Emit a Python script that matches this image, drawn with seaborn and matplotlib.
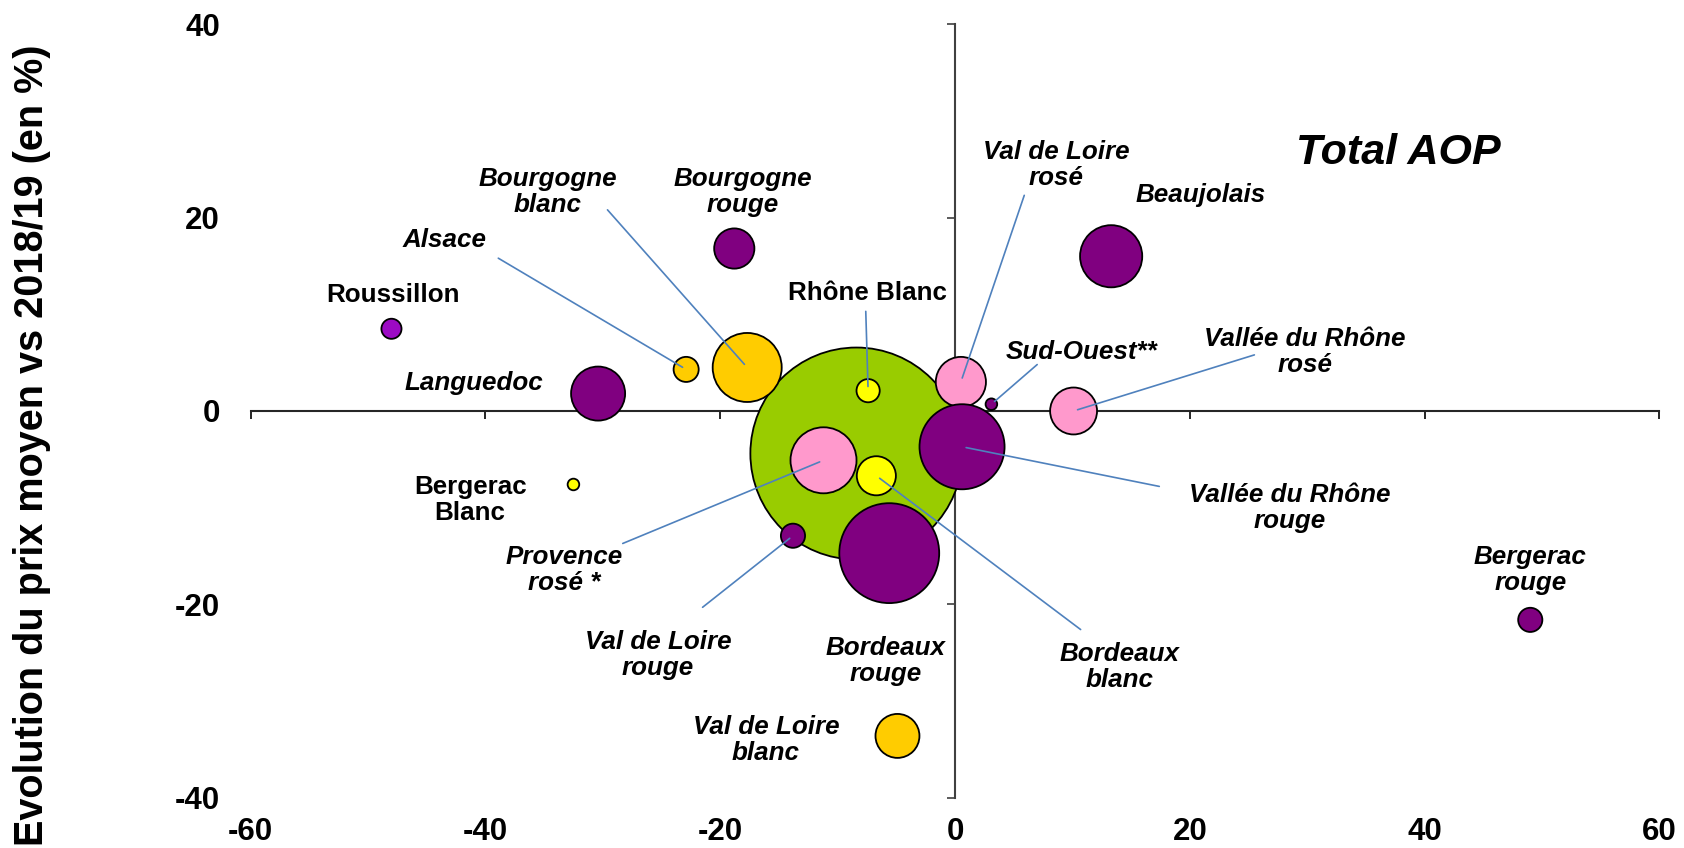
import numpy as np
import pandas as pd
import matplotlib
matplotlib.use("Agg")
import matplotlib.pyplot as plt
import seaborn as sns

# valeurs
appellations = ["Total AOP", "Roussillon", "Languedoc", "Alsace", "Bourgogne blanc",
                "Bourgogne rouge", "Rhône Blanc", "Val de Loire rosé", "Sud-Ouest",
                "Beaujolais", "Vallée du Rhône rosé", "Vallée du Rhône rouge",
                "Provence rosé", "Bordeaux blanc", "Bergerac Blanc", "Val de Loire rouge",
                "Bordeaux rouge", "Val de Loire blanc", "Bergerac rouge"]
evol_x = [-8.4, -48.0, -30.4, -22.9, -17.7, -18.8, -7.4, 0.5, 3.1, 13.3, 10.1,
          0.6, -11.2, -6.7, -32.5, -13.8, -5.6, -4.9, 49.0]
evol_prix = [-4.4, 8.5, 1.8, 4.3, 4.5, 16.8, 2.1, 3.0, 0.7, 16.0, 0.0,
             -3.7, -5.1, -6.7, -7.6, -12.9, -14.7, -33.6, -21.6]
poids = [100, 0.9, 6.5, 1.4, 10.6, 3.6, 1.2, 5.6, 0.3, 8.6, 4.9,
         16.1, 9.7, 3.4, 0.3, 1.3, 22.2, 4.3, 1.3]
famille = ["total", "vdn", "rouge", "blanc", "blanc", "rouge", "blanc sud", "rosé",
           "rouge", "rouge", "rosé", "rouge", "rosé", "blanc sud", "blanc sud",
           "rouge", "rouge", "blanc", "rouge"]
libelles = ["Total AOP", "Roussillon", "Languedoc", "Alsace", "Bourgogne\nblanc",
            "Bourgogne\nrouge", "Rhône Blanc", "Val de Loire\nrosé", "Sud-Ouest**",
            "Beaujolais", "Vallée du Rhône\nrosé", "Vallée du Rhône\nrouge",
            "Provence\nrosé *", "Bordeaux\nblanc", "Bergerac\nBlanc", "Val de Loire\nrouge",
            "Bordeaux\nrouge", "Val de Loire\nblanc", "Bergerac\nrouge"]

x_ticks = [-60, -40, -20, 0, 20, 40, 60]
y_ticks = [-40, -20, 0, 20, 40]

couleurs = {"total": "#99CC00", "vdn": "#9C0AC4", "rouge": "#800080",
            "blanc": "#FFCC00", "blanc sud": "#FFFF00", "rosé": "#FF99CC"}

# mise en page des etiquettes (position du texte) et des traits de rappel (depart)
pos_texte = {
    "Total AOP": (37.8, 26.7), "Roussillon": (-47.85, 12.0), "Languedoc": (-41.0, 2.9),
    "Alsace": (-43.5, 17.7), "Bourgogne blanc": (-34.7, 22.6),
    "Bourgogne rouge": (-18.1, 22.6), "Rhône Blanc": (-7.5, 12.2),
    "Val de Loire rosé": (8.6, 25.4), "Sud-Ouest": (10.8, 6.1),
    "Beaujolais": (20.9, 22.3), "Vallée du Rhône rosé": (29.8, 6.1),
    "Vallée du Rhône rouge": (28.5, -10.0), "Provence rosé": (-33.3, -16.4),
    "Bordeaux blanc": (14.0, -26.5), "Bergerac Blanc": (-41.3, -9.2),
    "Val de Loire rouge": (-25.3, -25.2), "Bordeaux rouge": (-5.9, -25.9),
    "Val de Loire blanc": (-16.1, -34.0), "Bergerac rouge": (49.0, -16.4),
}
pos_trait = {
    "Alsace": (-38.9, 15.8), "Bourgogne blanc": (-29.6, 20.8),
    "Rhône Blanc": (-7.6, 10.3), "Val de Loire rosé": (5.9, 22.3),
    "Sud-Ouest": (7.0, 4.8), "Vallée du Rhône rosé": (25.5, 5.8),
    "Vallée du Rhône rouge": (17.4, -7.8), "Provence rosé": (-28.3, -13.7),
    "Bordeaux blanc": (10.7, -22.6), "Val de Loire rouge": (-21.5, -20.3),
}
droits = ["Roussillon", "Rhône Blanc", "Bergerac Blanc"]

df = pd.DataFrame({"appellation": appellations, "x": evol_x, "y": evol_prix,
                   "poids": poids, "famille": famille, "libelle": libelles})

sns.set_style("white")
plt.rcParams["font.family"] = ["Liberation Sans", "DejaVu Sans"]
plt.rcParams["axes.unicode_minus"] = False
for k in ["text.color", "axes.labelcolor", "xtick.color", "ytick.color"]:
    plt.rcParams[k] = "black"

fig = plt.figure(figsize=(16.84, 8.48), dpi=100)
ax = fig.add_axes([0.1488, 0.0592, 0.8366, 0.9123])

sns.scatterplot(data=df, x="x", y="y", hue="famille", palette=couleurs,
                size="poids", sizes=(0, 23300), size_norm=(0, 100),
                edgecolor="black", linewidth=1.3, alpha=1, legend=False, ax=ax)

ax.set_xlim(-60, 60)
ax.set_ylim(-40, 40)
for s in ax.spines.values():
    s.set_visible(False)
ax.set_xticks(x_ticks)
ax.set_yticks(y_ticks)
ax.tick_params(axis="both", length=0, labelsize=22.5)
ax.tick_params(axis="y", pad=22)
ax.tick_params(axis="x", pad=14)
for t in ax.get_xticklabels() + ax.get_yticklabels():
    t.set_fontweight("bold")
ax.set_xlabel("")
ax.set_ylabel("Evolution du prix moyen vs 2018/19 (en %)", fontsize=28.5,
              fontweight="bold")
ax.yaxis.set_label_coords(-0.142, 0.456)

# axes qui se croisent en zero
sec_x = ax.secondary_xaxis(0.5)
sec_x.set_alignment("bottom")
sec_x.set_xticks(x_ticks)
sec_x.tick_params(direction="out", length=6, width=1.2, labelbottom=False, labeltop=False)
sec_x.spines["bottom"].set_linewidth(1.5)
sec_y = ax.secondary_yaxis(0.5)
sec_y.set_alignment("left")
sec_y.set_yticks(y_ticks)
sec_y.tick_params(direction="out", length=6, width=1.2, colors="#404040",
                  labelleft=False, labelright=False)
sec_y.spines["left"].set_linewidth(1.5)
sec_y.spines["left"].set_color("#404040")

for _, r in df.iterrows():
    tx, ty = pos_texte[r.appellation]
    if r.appellation == "Total AOP":
        ax.text(tx, ty, r.libelle, fontsize=31, fontweight="bold", fontstyle="italic",
                ha="center", va="center")
        continue
    style = "normal" if r.appellation in droits else "italic"
    ax.text(tx, ty, r.libelle, fontsize=18.7, fontweight="bold", fontstyle=style,
            ha="center", va="center", linespacing=1.1, zorder=5)
    if r.appellation in pos_trait:
        ax.annotate("", xy=(r.x, r.y), xytext=pos_trait[r.appellation],
                    arrowprops=dict(arrowstyle="-", color="#4F81BD", lw=1.2,
                                    shrinkA=0, shrinkB=3), zorder=4)

fig.savefig("out.png", dpi=100)
